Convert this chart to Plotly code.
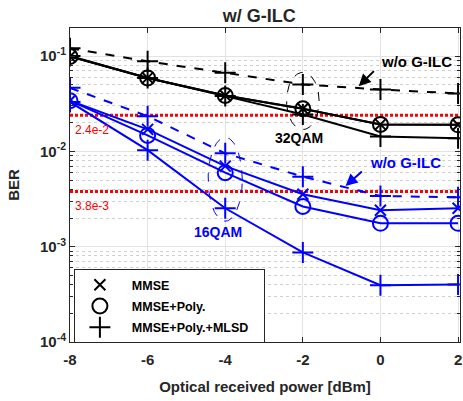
import plotly.graph_objects as go
import numpy as np

power_dbm = [-8, -6, -4, -2, 0, 2]

# 32QAM (black)
qam32_mmse = [0.099, 0.059, 0.0386, 0.0280, 0.0192, 0.0190]
qam32_poly = [0.099, 0.059, 0.0386, 0.0280, 0.0192, 0.0190]
qam32_mlsd = [0.100, 0.059, 0.0380, 0.0244, 0.0143, 0.0137]
qam32_wo = [0.121, 0.088, 0.0667, 0.0504, 0.0446, 0.0405]

# 16QAM (blue)
qam16_mmse = [0.034, 0.0170, 0.0070, 0.00355, 0.00241, 0.00253]
qam16_poly = [0.034, 0.0147, 0.00598, 0.00264, 0.00176, 0.00176]
qam16_mlsd = [0.033, 0.0103, 0.00253, 0.00087, 0.000395, 0.000400]
qam16_wo = [0.0464, 0.0234, 0.00953, 0.00543, 0.0034, 0.0033]

thresholds = [2.4e-2, 3.8e-3]
threshold_labels = ["2.4e-2", "3.8e-3"]

legend_names = ["MMSE", "MMSE+Poly.", "MMSE+Poly.+MLSD"]

y_tickvals = [1e-4, 1e-3, 1e-2, 1e-1]
y_ticktext = ["10<sup>-4</sup>", "10<sup>-3</sup>", "10<sup>-2</sup>", "10<sup>-1</sup>"]
x_tickvals = [-8, -6, -4, -2, 0, 2]
x_ticktext = ["-8", "-6", "-4", "-2", "0", "2"]
y_minor = [m * 10.0 ** e for e in range(-4, 0) for m in range(2, 10)]

BLUE = "#0000FF"
BLACK = "#000000"
FONT = "Liberation Sans"

fig = go.Figure()

def add_series(y, color, symbol, size, dash="solid"):
    fig.add_trace(go.Scatter(
        x=power_dbm, y=y, mode="lines+markers", showlegend=False,
        line=dict(color=color, width=2, dash=dash),
        marker=dict(symbol=symbol, size=size, color=color,
                    line=dict(color=color, width=2)),
    ))

def add_ellipse(cx, cy_log, rx, ry_log, color):
    t = np.linspace(0, 2 * np.pi, 120)
    fig.add_trace(go.Scatter(
        x=cx + rx * np.cos(t), y=10 ** (cy_log + ry_log * np.sin(t)),
        mode="lines", showlegend=False, hoverinfo="skip",
        line=dict(color=color, width=1, dash="dash"),
    ))

# threshold lines
for t in thresholds:
    fig.add_trace(go.Scatter(
        x=[-8, 2.05], y=[t, t], mode="lines", showlegend=False,
        line=dict(color="#FF0000", width=3, dash="3px,2px"),
    ))

# ellipses
add_ellipse(-2.0, -1.471, 0.42, 0.30, BLACK)
add_ellipse(-4.0, -2.293, 0.44, 0.44, BLUE)

add_series(qam32_wo, BLACK, "cross-thin-open", 15, dash="dash")
add_series(qam32_mmse, BLACK, "x-thin-open", 11)
add_series(qam32_poly, BLACK, "circle-open", 15)
add_series(qam32_mlsd, BLACK, "cross-thin-open", 15)

add_series(qam16_wo, BLUE, "cross-thin-open", 15, dash="dash")
add_series(qam16_mmse, BLUE, "x-thin-open", 11)
add_series(qam16_poly, BLUE, "circle-open", 15)
add_series(qam16_mlsd, BLUE, "cross-thin-open", 15)

# legend entries (black markers only)
for i, (name, sym, sz) in enumerate(zip(legend_names,
                                        ["x-thin-open", "circle-open", "cross-thin-open"],
                                        [11, 15, 15])):
    fig.add_trace(go.Scatter(
        x=[None], y=[None], mode="markers",
        name="\u00a0\u00a0" + name + "\u00a0\u00a0\u00a0",
        legendgroup=f"g{i}",
        marker=dict(symbol=sym, size=sz, color=BLACK,
                    line=dict(color=BLACK, width=2)),
    ))

# threshold labels
for t, lab in zip(thresholds, threshold_labels):
    fig.add_annotation(x=-7.92, y=np.log10(t), text=lab, showarrow=False,
                       xanchor="left", yanchor="top", yshift=-6,
                       font=dict(family=FONT, size=12, color="#FF0000"))

# text annotations
fig.add_annotation(x=-2.1, y=np.log10(0.0139), text="<b>32QAM</b>", showarrow=False,
                   yanchor="middle", font=dict(family=FONT, size=14, color=BLACK))
fig.add_annotation(x=-4.18, y=np.log10(0.00142), text="<b>16QAM</b>", showarrow=False,
                   yanchor="middle", font=dict(family=FONT, size=14, color=BLUE))
fig.add_annotation(x=-0.05, y=np.log10(0.087), text="<b>w/o G-ILC</b>", showarrow=False,
                   xanchor="left", font=dict(family=FONT, size=15, color=BLACK))
fig.add_annotation(x=-0.32, y=np.log10(0.0077), text="<b>w/o G-ILC</b>", showarrow=False,
                   xanchor="left", font=dict(family=FONT, size=15, color=BLUE))
# arrows
fig.add_annotation(x=-0.56, y=np.log10(0.0483), ax=-0.13, ay=np.log10(0.072),
                   axref="x", ayref="y", text="", showarrow=True,
                   arrowhead=2, arrowsize=1.2, arrowwidth=2, arrowcolor=BLACK)
fig.add_annotation(x=-0.9, y=np.log10(0.00433), ax=-0.44, ay=np.log10(0.00637),
                   axref="x", ayref="y", text="", showarrow=True,
                   arrowhead=2, arrowsize=1.2, arrowwidth=2, arrowcolor=BLUE)

axis_common = dict(
    showline=True, linecolor="#262626", linewidth=1, mirror="ticks",
    ticks="inside", ticklen=5, tickcolor="#262626",
    showgrid=True, gridcolor="#E3E3E3", gridwidth=1, zeroline=False,
    ticklabeloverflow="allow",
    tickfont=dict(family=FONT, size=15, color="#262626", weight="bold"),
)

fig.update_xaxes(range=[-8, 2.05], tickvals=x_tickvals, ticktext=x_ticktext,
                 ticklabelstandoff=4, **axis_common,
                 title=dict(text="Optical received power [dBm]", standoff=14,
                            font=dict(family=FONT, size=15, color="#262626", weight="bold")))
fig.update_yaxes(type="log", range=[-4, np.log10(0.197)], tickvals=y_tickvals,
                 ticktext=y_ticktext, **axis_common,
                 minor=dict(tickvals=y_minor, ticks="inside", ticklen=3, tickcolor="#262626",
                            showgrid=True, gridcolor="#D0D0D0", griddash="dot"),
                 title=dict(text="BER", standoff=16,
                            font=dict(family=FONT, size=15, color="#262626", weight="bold")))

fig.update_layout(
    width=463, height=401,
    margin=dict(l=70, r=1, t=28, b=59),
    paper_bgcolor="white", plot_bgcolor="white",
    title=dict(text="w/ G-ILC", x=0.56, xanchor="center", y=0.962, yanchor="middle",
               font=dict(family=FONT, size=18, color="#262626", weight="bold")),
    legend=dict(x=0.01, y=0.232, xanchor="left", yanchor="top",
                bgcolor="white", bordercolor="#262626", borderwidth=1,
                font=dict(family=FONT, size=12.5, color="#000000", weight="bold"),
                itemwidth=40, tracegroupgap=2),
)

fig.write_html("out.html")
